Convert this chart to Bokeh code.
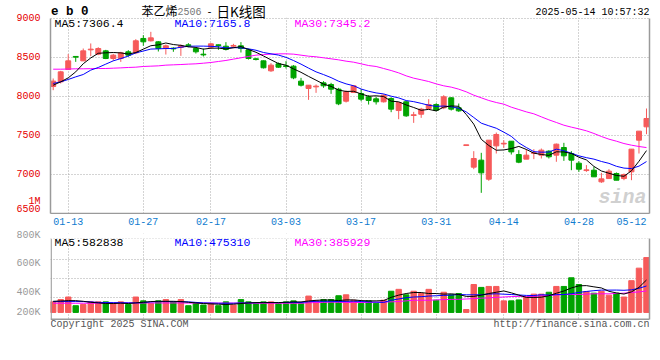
from bokeh.plotting import figure
from bokeh.models import (Range1d, FixedTicker, LinearAxis, Label, ColumnDataSource,
                          BoxAnnotation, Span)
from bokeh.layouts import column
from bokeh.embed import file_html
from bokeh.resources import INLINE

# ---------------- data ----------------
symbol = "e b 0"
title_name = "苯乙烯"
title_code = "2506"
title_kind = "日K线图"
timestamp = "2025-05-14 10:57:32"

date_tick_idx = [2, 12, 21, 31, 41, 51, 60, 70, 77]
date_tick_labels = ["01-13", "01-27", "02-17", "03-03", "03-17", "03-31", "04-14", "04-28", "05-12"]
grid_idx = [2, 12, 21, 31, 41, 51, 60, 70]
price_ticks = [6500, 7000, 7500, 8000, 8500, 9000]

open_ = [8128, 8188, 8346, 8511, 8457, 8600, 8543, 8585, 8487, 8487,
         8573, 8560, 8744, 8714, 8701, 8615, 8617, 8628, 8660, 8615,
         8540, 8632, 8660, 8645, 8648, 8650, 8598, 8481, 8457, 8329,
         8419, 8391, 8389, 8197, 8103, 8126, 8175, 8154, 8094, 7940,
         8051, 8038, 7996, 7970, 7932, 7974, 7820, 7932, 7759, 7773,
         7846, 7897, 7855, 7983, 7855, 7376, 7094, 7184, 6940, 7367,
         7395, 7427, 7256, 7197, 7274, 7248, 7299, 7248, 7346, 7269,
         7145, 7053, 7055, 6906, 6948, 7013, 6948, 7034, 7440, 7611]
high_ = [8231, 8329, 8543, 8517, 8615, 8680, 8632, 8598, 8547, 8573,
         8594, 8735, 8786, 8829, 8709, 8667, 8632, 8667, 8684, 8632,
         8615, 8684, 8667, 8697, 8675, 8697, 8615, 8496, 8462, 8427,
         8436, 8453, 8402, 8239, 8145, 8154, 8197, 8175, 8111, 8077,
         8145, 8094, 8017, 8000, 8026, 7991, 7923, 7940, 7803, 7855,
         7966, 7914, 8017, 7991, 7910, 7376, 7299, 7278, 7440, 7538,
         7440, 7427, 7312, 7325, 7325, 7333, 7312, 7397, 7406, 7299,
         7171, 7120, 7098, 7021, 7068, 7026, 7013, 7325, 7556, 7846]
low_ = [8081, 8167, 8346, 8444, 8457, 8517, 8530, 8479, 8457, 8444,
        8509, 8543, 8650, 8705, 8577, 8538, 8573, 8521, 8632, 8551,
        8513, 8611, 8598, 8590, 8620, 8564, 8474, 8462, 8359, 8316,
        8368, 8359, 8222, 8128, 7957, 8047, 8111, 8034, 7889, 7923,
        8051, 7940, 7897, 7897, 7923, 7799, 7709, 7739, 7662, 7726,
        7838, 7812, 7838, 7820, 7803, 7376, 7068, 6765, 6919, 7269,
        7342, 7256, 7145, 7197, 7197, 7205, 7205, 7163, 7175, 7055,
        7034, 7034, 6970, 6893, 6948, 6927, 6927, 6927, 7269, 7517]
close_ = [8197, 8316, 8457, 8507, 8585, 8605, 8615, 8487, 8530, 8560,
          8530, 8714, 8701, 8752, 8615, 8650, 8613, 8650, 8656, 8573,
          8536, 8675, 8656, 8603, 8652, 8615, 8487, 8477, 8368, 8402,
          8376, 8387, 8239, 8145, 8145, 8130, 8137, 8094, 7906, 8060,
          8137, 7966, 7949, 7932, 8017, 7838, 7923, 7752, 7763, 7838,
          7897, 7825, 7996, 7838, 7816, 7376, 7205, 7021, 7440, 7513,
          7397, 7290, 7158, 7248, 7278, 7312, 7227, 7389, 7239, 7184,
          7068, 7057, 6970, 6944, 7043, 6927, 7000, 7325, 7556, 7718]

ma5 = [8145, 8188, 8239, 8316, 8420, 8494, 8554, 8560, 8564, 8559,
       8544, 8564, 8607, 8651, 8662, 8686, 8666, 8656, 8637, 8629,
       8607, 8619, 8620, 8609, 8625, 8640, 8603, 8567, 8520, 8470,
       8422, 8402, 8354, 8310, 8258, 8209, 8159, 8130, 8082, 8065,
       8067, 8033, 8004, 8009, 8000, 7940, 7932, 7892, 7859, 7823,
       7835, 7815, 7864, 7879, 7874, 7770, 7646, 7451, 7372, 7311,
       7315, 7332, 7360, 7321, 7274, 7257, 7245, 7291, 7289, 7270,
       7221, 7187, 7104, 7045, 7016, 6988, 6977, 7048, 7170, 7306.4]
ma10 = [8167, 8188, 8218, 8252, 8282, 8338, 8372, 8415, 8457, 8486,
        8519, 8559, 8583, 8608, 8611, 8615, 8615, 8632, 8644, 8646,
        8646, 8643, 8638, 8623, 8627, 8623, 8611, 8593, 8564, 8547,
        8531, 8502, 8461, 8415, 8364, 8316, 8281, 8242, 8196, 8162,
        8138, 8096, 8067, 8046, 8033, 8004, 7982, 7948, 7934, 7912,
        7888, 7873, 7878, 7869, 7849, 7802, 7731, 7658, 7625, 7593,
        7543, 7489, 7405, 7346, 7293, 7286, 7288, 7325, 7305, 7272,
        7239, 7216, 7197, 7167, 7143, 7105, 7082, 7076, 7107, 7165.8]
ma30 = [8350, 8350, 8352, 8355, 8355, 8357, 8359, 8359, 8363, 8367,
        8372, 8376, 8385, 8389, 8393, 8402, 8406, 8410, 8415, 8419,
        8427, 8436, 8449, 8462, 8479, 8496, 8513, 8530, 8538, 8543,
        8547, 8547, 8543, 8530, 8517, 8509, 8496, 8483, 8470, 8453,
        8440, 8419, 8397, 8385, 8359, 8333, 8303, 8265, 8235, 8214,
        8192, 8162, 8137, 8120, 8094, 8060, 8017, 7983, 7949, 7923,
        7902, 7863, 7833, 7803, 7778, 7739, 7701, 7667, 7632, 7607,
        7585, 7560, 7526, 7487, 7453, 7427, 7397, 7376, 7359, 7345.2]

volume = [190000, 231000, 277000, 121000, 144000, 190000, 190000, 190000, 162000, 190000,
          144000, 277000, 208000, 162000, 208000, 231000, 190000, 231000, 121000, 162000,
          133000, 162000, 121000, 190000, 133000, 231000, 190000, 162000, 190000, 190000,
          162000, 190000, 208000, 162000, 294000, 208000, 231000, 231000, 300000, 317000,
          219000, 162000, 208000, 162000, 219000, 381000, 415000, 317000, 381000, 340000,
          415000, 219000, 363000, 317000, 340000, 52000, 502000, 450000, 467000, 467000,
          208000, 208000, 225000, 277000, 329000, 329000, 363000, 467000, 467000, 623000,
          502000, 375000, 346000, 381000, 311000, 346000, 277000, 571000, 796000, 986000]
vol_ma5 = [200000, 206000, 212000, 212000, 200000, 183000, 171000, 160000, 160000, 166000,
           160000, 171000, 183000, 195000, 200000, 200000, 200000, 195000, 183000, 171000,
           160000, 154000, 148000, 143000, 148000, 160000, 171000, 177000, 177000, 177000,
           177000, 183000, 189000, 189000, 206000, 218000, 223000, 223000, 213000, 225000,
           225000, 213000, 208000, 208000, 213000, 271000, 311000, 340000, 358000, 358000,
           340000, 340000, 329000, 334000, 323000, 288000, 288000, 311000, 340000, 363000,
           386000, 352000, 311000, 271000, 270000, 274000, 300000, 345000, 385000, 440000,
           478000, 482000, 460000, 440000, 380000, 350000, 330000, 370000, 450000, 582838]
vol_ma10 = [195000, 195000, 195000, 195000, 195000, 190000, 180000, 178000, 176000, 175000,
            172000, 172000, 176000, 190000, 195000, 195000, 195000, 193000, 190000, 180000,
            172000, 168000, 165000, 165000, 165000, 170000, 170000, 175000, 178000, 178000,
            178000, 178000, 178000, 178000, 192000, 200000, 200000, 200000, 196000, 199000,
            202000, 196000, 190000, 185000, 179000, 219000, 242000, 265000, 277000, 283000,
            294000, 300000, 306000, 311000, 323000, 317000, 317000, 317000, 330000, 335000,
            328000, 322000, 314000, 306000, 304000, 318000, 313000, 320000, 322000, 336000,
            360000, 377000, 391000, 402000, 401000, 402000, 398000, 406000, 434000, 475310]
vol_ma30 = [165000, 165000, 165000, 165000, 165000, 165000, 165000, 165000, 170000, 170000,
            170000, 170000, 170000, 170000, 170000, 170000, 170000, 170000, 168000, 168000,
            168000, 168000, 168000, 168000, 168000, 168000, 165000, 165000, 165000, 165000,
            165000, 165000, 165000, 165000, 172000, 178000, 181000, 185000, 182000, 179000,
            179000, 179000, 179000, 185000, 187000, 190000, 196000, 208000, 219000, 219000,
            219000, 225000, 231000, 234000, 236000, 242000, 248000, 257000, 260000, 271000,
            277000, 286000, 288000, 288000, 288000, 300000, 306000, 314000, 323000, 323000,
            323000, 329000, 335000, 335000, 335000, 340000, 346000, 358000, 369000, 385929]

price_ma_labels = ["MA5:7306.4", "MA10:7165.8", "MA30:7345.2"]
vol_ma_labels = ["MA5:582838", "MA10:475310", "MA30:385929"]
vol_tick_labels = ["200K", "400K", "600K", "800K"]
footer_left = "Copyright 2025 SINA.COM"
footer_right = "http://finance.sina.com.cn"
unit_label = "1M"

n = len(close_)
for arr in (open_, high_, low_, ma5, ma10, ma30, volume, vol_ma5, vol_ma10, vol_ma30):
    assert len(arr) == n, len(arr)

# ---------------- styles / layout ----------------
MONO = "Liberation Mono"
CJK = "Noto Sans CJK SC"
UP = "#f65a5a"
DOWN = "#00a300"
GRID = "#a8a8a8"
BORDER = "#9a9a9a"
DATE_BLUE = "#0f7ccf"
AXIS_RED = "#e60000"
GRAY = "#9a9a9a"
MA_COLORS = ["#000000", "#0000ff", "#ff00ff"]
W = 652

# page-pixel <-> data helpers (layout only)
PX_PER_BAR = 7.51
FRAME_L, FRAME_R = 50.0, 649.0
X0 = -2.7 / PX_PER_BAR
X1 = X0 + (FRAME_R - FRAME_L) / PX_PER_BAR
def px_x(x):
    return X0 + (x - FRAME_L) / PX_PER_BAR

PRICE_PER_PX = 2500.0 / 195.0          # 6500 at y=213, 9000 at y=18
def price_at(y):
    return 6500.0 + (213.0 - y) * PRICE_PER_PX

VOL_PX = 17300.0                        # volume 0 at y=311
V_CANVAS_TOP = 214
def vol_at(y):
    return (311.0 - y) * VOL_PX

idx = list(range(n))
colors = [UP if c >= o else DOWN for o, c in zip(open_, close_)]
body_top, body_bot = [], []
for o, c in zip(open_, close_):
    t, b = max(o, c), min(o, c)
    if t - b < 9:
        m = (t + b) / 2.0
        t, b = m + 4.5, m - 4.5
    body_top.append(t)
    body_bot.append(b)

src = ColumnDataSource(dict(idx=idx, high=high_, low=low_, top=body_top, bot=body_bot,
                            color=colors, vol=volume))


def no_tick_axis(ax, bounds=None, line=True):
    ax.ticker = FixedTicker(ticks=[])
    ax.axis_line_color = BORDER if line else None
    ax.axis_line_width = 1.5
    ax.major_tick_line_color = None
    ax.minor_tick_line_color = None
    ax.major_label_text_font_size = "0px"
    ax.major_label_standoff = 0
    if bounds is not None:
        ax.bounds = bounds


def add_text(fig, text, x, y, color, size, align="left", font=MONO, style="normal",
             baseline="middle", alpha=1.0):
    fig.add_layout(Label(x=x, y=y, text=text, text_color=color,
                         text_font=font, text_font_size=f"{size}px", text_align=align,
                         text_baseline=baseline, text_font_style=style, text_alpha=alpha))


def style_grid(fig):
    for g in (fig.xgrid[0], fig.ygrid[0]):
        g.grid_line_color = GRID
        g.grid_line_dash = "1 2"
        g.grid_line_width = 1


# ---------------- price panel (frame reaches the page top, header lives inside) ----------------
P = figure(width=W, height=214, x_range=Range1d(X0, X1), y_range=Range1d(6500, price_at(0)),
           output_backend="svg", toolbar_location=None,
           min_border_left=50, min_border_right=3, min_border_top=0, min_border_bottom=1)
P.outline_line_color = None
P.background_fill_color = "white"
P.border_fill_color = "white"
no_tick_axis(P.xaxis[0])
ya = P.yaxis[0]
unit_pos = round(price_at(201.0), 1)
ya.ticker = FixedTicker(ticks=price_ticks + [unit_pos])
ya.major_label_overrides = {unit_pos: unit_label}
ya.bounds = (6500, 9000)
ya.axis_line_color = BORDER
ya.axis_line_width = 1.5
ya.major_tick_line_color = None
ya.minor_tick_line_color = None
ya.major_label_text_color = AXIS_RED
ya.major_label_text_font = MONO
ya.major_label_text_font_size = "10px"
ya.major_label_standoff = 4
rax = LinearAxis()
no_tick_axis(rax, bounds=(6500, 9000))
P.add_layout(rax, "right")
P.xgrid.ticker = FixedTicker(ticks=grid_idx)
P.ygrid.ticker = FixedTicker(ticks=price_ticks)
style_grid(P)

P.segment(x0="idx", y0="low", x1="idx", y1="high", line_color="color", line_width=1, source=src)
P.vbar(x="idx", width=0.66, top="top", bottom="bot", fill_color="color", line_color="color",
       line_width=1, source=src)
P.line(idx, ma30, line_color=MA_COLORS[2], line_width=1)
P.line(idx, ma10, line_color=MA_COLORS[1], line_width=1)
P.line(idx, ma5, line_color=MA_COLORS[0], line_width=1)

# white header strip above the 9000 line (hides grid lines there)
P.add_layout(BoxAnnotation(bottom=price_at(17.3), fill_color="white", fill_alpha=1.0,
                           line_color=None))
add_text(P, symbol, px_x(50.5), price_at(11), "#000000", 12.5, style="bold")
add_text(P, title_name, px_x(141), price_at(10), "#000000", 12, font=CJK)
add_text(P, title_code, px_x(177), price_at(10.5), "#777777", 10)
add_text(P, "-", px_x(206), price_at(10.5), "#000000", 10)
add_text(P, title_kind, px_x(216), price_at(10), "#000000", 13.5, font=CJK)
add_text(P, timestamp, X1, price_at(12), "#000000", 10, align="right")
for k, t in enumerate(price_ma_labels):
    add_text(P, t, px_x(54 + 120 * k), price_at(23.3), MA_COLORS[k], 11.5)
add_text(P, "sina", px_x(646), price_at(197), "#c4c4c4", 20, align="right",
         style="bold italic", alpha=0.8)

# ---------------- volume panel ----------------
V_TOP_LINE, V_BOT_LINE = 234.7, 318.0
V_FRAME_TOP = 229.0
V_H = 122
V = figure(width=W, height=V_H, x_range=P.x_range,
           y_range=Range1d(vol_at(V_CANVAS_TOP + V_H), vol_at(V_FRAME_TOP)),
           output_backend="svg", toolbar_location=None,
           min_border_left=50, min_border_right=3, min_border_top=int(V_FRAME_TOP - V_CANVAS_TOP),
           min_border_bottom=0)
V.outline_line_color = None
V.background_fill_color = "white"
V.border_fill_color = "white"
V.xaxis.visible = False
vrax = LinearAxis()
no_tick_axis(vrax, bounds=(vol_at(V_BOT_LINE), vol_at(V_TOP_LINE)))
V.add_layout(vrax, "right")

vtick_pos = [round(vol_at(y)) for y in (311.0, 290.3, 260.0, 231.0)]
vya = V.yaxis[0]
vya.ticker = FixedTicker(ticks=vtick_pos)
vya.major_label_overrides = {p: l for p, l in zip(vtick_pos, vol_tick_labels)}
vya.axis_line_color = None
vya.major_tick_line_color = None
vya.minor_tick_line_color = None
vya.major_label_text_color = GRAY
vya.major_label_text_font = MONO
vya.major_label_text_font_size = "10px"
vya.major_label_standoff = 4

date_axis = LinearAxis(ticker=FixedTicker(ticks=date_tick_idx),
                       major_label_overrides={t: l for t, l in zip(date_tick_idx, date_tick_labels)})
date_axis.axis_line_color = None
date_axis.major_tick_line_color = None
date_axis.minor_tick_line_color = None
date_axis.major_label_text_color = DATE_BLUE
date_axis.major_label_text_font = MONO
date_axis.major_label_text_font_size = "10px"
date_axis.major_label_standoff = 3
V.add_layout(date_axis, "above")

V.xgrid.ticker = FixedTicker(ticks=grid_idx)
V.ygrid.ticker = FixedTicker(ticks=[vol_at(y) for y in (V_TOP_LINE, 255.7, 275.7, 295.7)])
style_grid(V)

V.vbar(x="idx", width=0.72, top="vol", bottom=0, fill_color="color", line_color="color",
       line_width=1, source=src)
V.line(idx, vol_ma30, line_color=MA_COLORS[2], line_width=1)
V.line(idx, vol_ma10, line_color=MA_COLORS[1], line_width=1)
V.line(idx, vol_ma5, line_color=MA_COLORS[0], line_width=1)

# white strips outside the panel box, then the box's left and bottom edges
V.add_layout(BoxAnnotation(bottom=vol_at(V_TOP_LINE - 0.6), fill_color="white", fill_alpha=1.0,
                           line_color=None))
V.add_layout(BoxAnnotation(top=vol_at(V_BOT_LINE + 0.8), fill_color="white", fill_alpha=1.0,
                           line_color=None))
V.add_layout(Span(location=vol_at(V_BOT_LINE), dimension="width", line_color=BORDER,
                  line_width=1.5))
V.add_layout(BoxAnnotation(left=X0, right=px_x(51.3), bottom=vol_at(V_BOT_LINE),
                           top=vol_at(V_TOP_LINE), fill_color=BORDER, fill_alpha=1.0,
                           line_color=None))

for k, t in enumerate(vol_ma_labels):
    add_text(V, t, px_x(54 + 120 * k), vol_at(238.0), MA_COLORS[k], 11.5)
add_text(V, footer_left, px_x(50), vol_at(323.5), "#555555", 10)
add_text(V, footer_right, X1, vol_at(323.5), "#555555", 10, align="right")

layout = column(P, V, spacing=0)
open("out.html", "w").write(file_html(layout, INLINE))
